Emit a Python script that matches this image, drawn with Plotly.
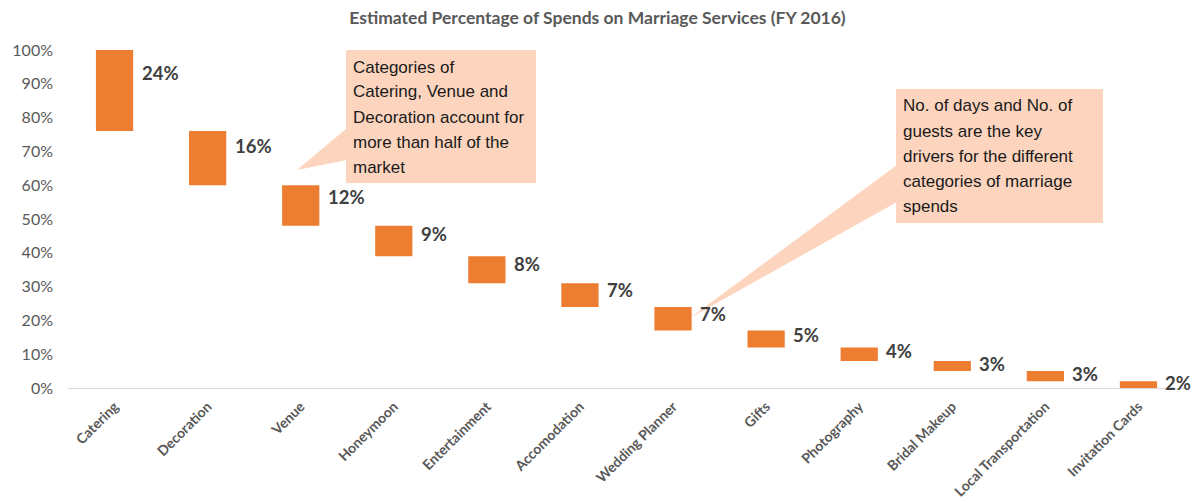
import plotly.graph_objects as go
import numpy as np

categories = ["Catering", "Decoration", "Venue", "Honeymoon", "Entertainment", "Accomodation",
              "Wedding Planner", "Gifts", "Photography", "Bridal Makeup", "Local Transportation",
              "Invitation Cards"]
values = [24, 16, 12, 9, 8, 7, 7, 5, 4, 3, 3, 2]
y_ticks = [0, 10, 20, 30, 40, 50, 60, 70, 80, 90, 100]
title = "Estimated Percentage of Spends on Marriage Services (FY 2016)"
note1_lines = ["Categories of", "Catering, Venue and", "Decoration account for",
               "more than half of the", "market"]
note2_lines = ["No. of days and No. of", "guests are the key", "drivers for the different",
               "categories of marriage", "spends"]

vals = np.array(values, dtype=float)
tops = 100 - np.concatenate([[0], np.cumsum(vals)[:-1]])
bases = tops - vals

BAR = "#ED7D31"
NOTE = "#FDD5BE"

W, H = 1195, 503
L, R, T, B = 68, 10, 50, 115
pw, ph = W - L - R, H - T - B


def px(x):
    return (x - L) / pw


def py(y):
    return (H - B - y) / ph


fig = go.Figure()
fig.add_trace(go.Bar(x=categories, y=vals, base=bases, width=0.4,
                     marker=dict(color=BAR, line=dict(width=0)), hoverinfo="skip"))

annotations = []
for c, t, v in zip(categories, tops, vals):
    annotations.append(dict(x=c, y=t - v * 0.28, xref="x", yref="y", text=f"{int(v)}%",
                            showarrow=False, xanchor="left", yanchor="middle", xshift=25,
                            font=dict(family="Lato", size=18.5, color="#404040", weight="bold")))

shapes = []


def callout(box, tri, lines, text_x, first_y):
    x0, y0, x1, y1 = box
    shapes.append(dict(type="rect", xref="paper", yref="paper", x0=px(x0), x1=px(x1),
                       y0=py(y1), y1=py(y0), fillcolor=NOTE, line=dict(width=0), layer="above"))
    path = "M {} {} L {} {} L {} {} Z".format(*[v for p in tri for v in (px(p[0]), py(p[1]))])
    shapes.append(dict(type="path", xref="paper", yref="paper", path=path, fillcolor=NOTE,
                       line=dict(width=0), layer="above"))
    for i, ln in enumerate(lines):
        annotations.append(dict(x=px(text_x), y=py(first_y + 25 * i), xref="paper", yref="paper",
                                text=ln, showarrow=False, xanchor="left", yanchor="middle",
                                xshift=-2,
                                font=dict(family="Liberation Sans", size=17, color="#1a1a1a")))


callout((346, 50, 536, 183), [(347, 128), (347, 160), (297, 170)], note1_lines, 353, 67)
callout((896, 89, 1103, 223), [(897, 165), (897, 202), (690, 318)], note2_lines, 903, 106)

fig.update_layout(
    width=W, height=H,
    margin=dict(l=L, r=R, t=T, b=B, autoexpand=False),
    paper_bgcolor="white", plot_bgcolor="white",
    showlegend=False,
    title=dict(text=title, x=0.5, xref="container", xanchor="center", y=1 - 18 / H,
               yref="container", yanchor="middle",
               font=dict(family="Lato", size=17.5, color="#595959", weight="bold")),
    xaxis=dict(showgrid=False, showline=True, linecolor="#D9D9D9", linewidth=1,
               tickangle=-45, ticks="outside", ticklen=4, tickcolor="rgba(0,0,0,0)",
               tickfont=dict(family="Lato", size=14, color="#595959", weight="bold"),
               range=[-0.5, len(categories) - 0.5]),
    yaxis=dict(range=[0, 100], showgrid=False, zeroline=False, showline=False,
               tickvals=y_ticks, ticktext=[f"{v}%" for v in y_ticks],
               tickfont=dict(family="Lato", size=16, color="#595959"),
               ticklabelstandoff=14),
    annotations=annotations,
    shapes=shapes,
    bargap=0.6,
)

fig.write_html("out.html", config={"displayModeBar": False},
               post_script="document.body.style.margin='0';document.body.style.overflow='hidden';")
